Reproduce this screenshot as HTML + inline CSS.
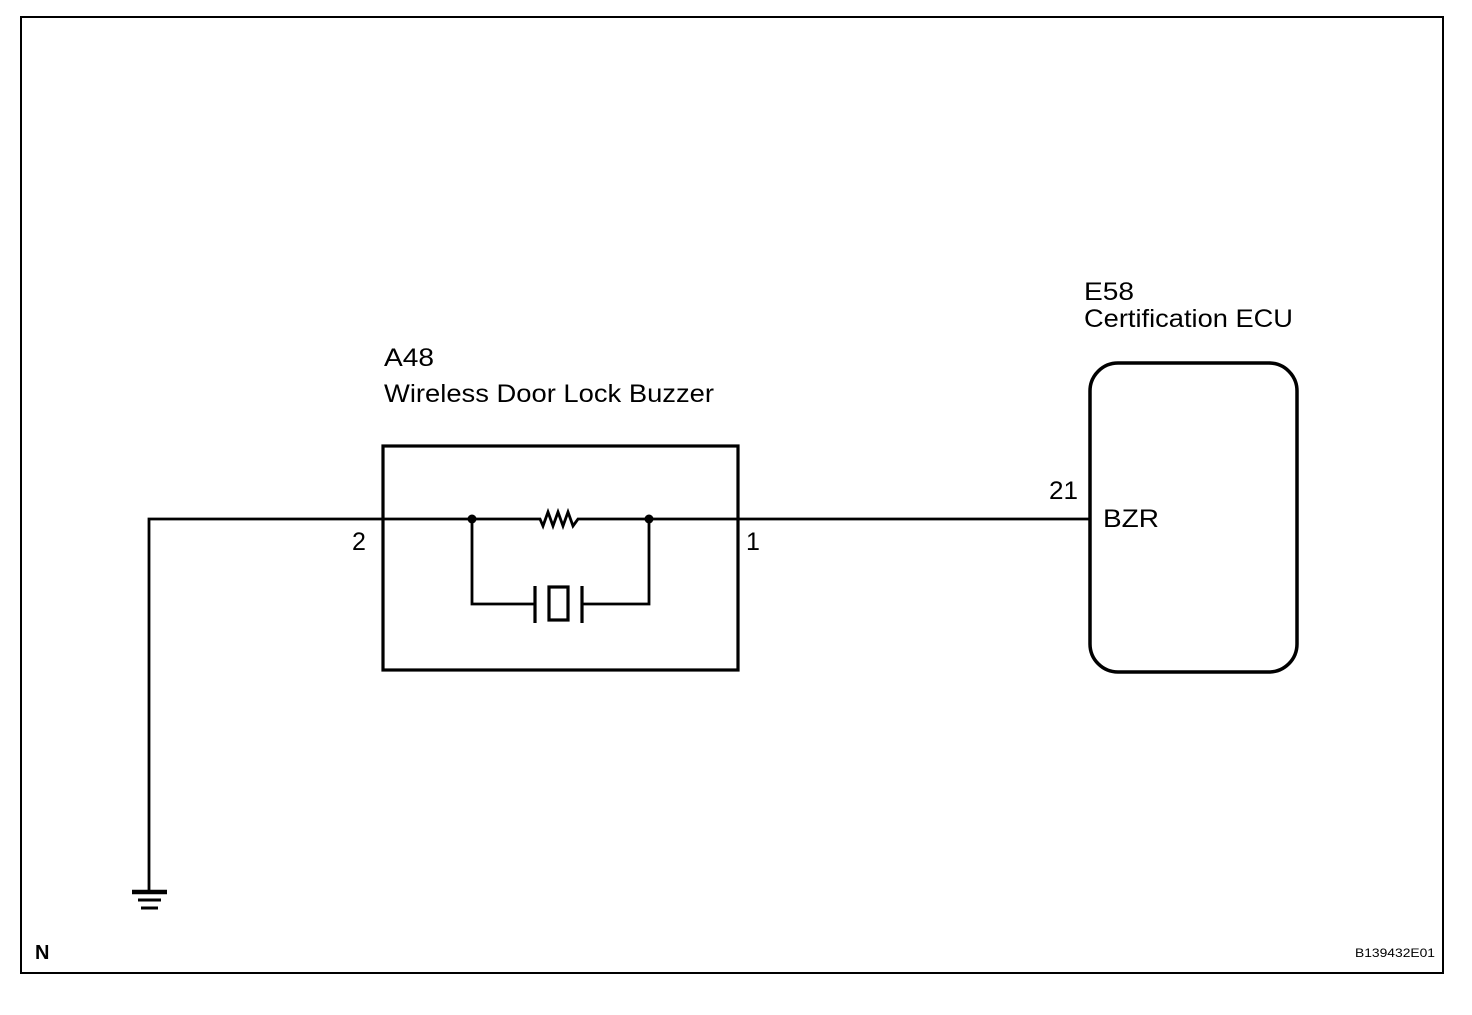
<!DOCTYPE html>
<html><head><style>
body{margin:0;background:#fff;}
svg text{font-family:"Liberation Sans",Arial,sans-serif;fill:#000;}
</style></head><body>
<svg width="1472" height="1010" viewBox="0 0 1472 1010" xmlns="http://www.w3.org/2000/svg">
<rect x="21" y="17" width="1422" height="956" fill="none" stroke="#000" stroke-width="2"/>
<g stroke="#000" fill="none" stroke-width="2.8">
<rect x="383" y="446" width="355" height="224" stroke-width="3.2"/>
<polyline points="149,890 149,519 540,519 543,526 548,512 553,526 558,512 563,526 568,512 573,526 578,519 1090,519"/>
<polyline points="472,519 472,604 535,604"/>
<polyline points="649,519 649,604 581,604"/>
<line x1="535" y1="586" x2="535" y2="623" stroke-width="3.2"/>
<line x1="582" y1="586" x2="582" y2="623" stroke-width="3.2"/>
<rect x="549" y="587" width="19" height="33" stroke-width="3.2"/>
<rect x="1090" y="363" width="207" height="309" rx="28" stroke-width="3.5"/>
<line x1="132" y1="892" x2="167" y2="892" stroke-width="4.5"/>
<line x1="138" y1="900" x2="161" y2="900" stroke-width="3"/>
<line x1="141" y1="908" x2="158" y2="908" stroke-width="3"/>
</g>
<circle cx="472" cy="519" r="4.5" fill="#000"/>
<circle cx="649" cy="519" r="4.5" fill="#000"/>
<text x="384" y="366" font-size="25" textLength="50" lengthAdjust="spacingAndGlyphs">A48</text>
<text x="384" y="402" font-size="25" textLength="330" lengthAdjust="spacingAndGlyphs">Wireless Door Lock Buzzer</text>
<text x="1084" y="300" font-size="25" textLength="50" lengthAdjust="spacingAndGlyphs">E58</text>
<text x="1084" y="327" font-size="25" textLength="209" lengthAdjust="spacingAndGlyphs">Certification ECU</text>
<text x="352" y="550" font-size="25">2</text>
<text x="746" y="550" font-size="25">1</text>
<text x="1049" y="499" font-size="25" textLength="29" lengthAdjust="spacingAndGlyphs">21</text>
<text x="1103" y="527" font-size="25" textLength="56" lengthAdjust="spacingAndGlyphs">BZR</text>
<text x="35" y="959" font-size="20" font-weight="bold">N</text>
<text x="1355" y="957" font-size="12" textLength="80" lengthAdjust="spacingAndGlyphs">B139432E01</text>
</svg>
</body></html>
